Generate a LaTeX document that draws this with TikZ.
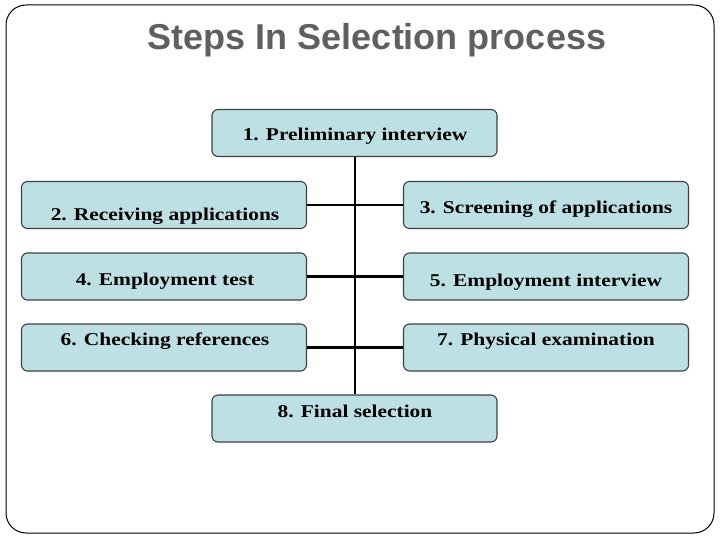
\documentclass[tikz,border=0pt]{standalone}
\usepackage{fontspec}
\usepackage{graphicx}
\setmainfont{Liberation Serif}
\newfontfamily\titlefont{Liberation Sans}
\definecolor{boxfill}{HTML}{BDE0E4}
\definecolor{boxdraw}{HTML}{404040}
\definecolor{titlegray}{HTML}{5F5F5F}
\newcommand{\wide}[1]{\scalebox{1.19}[1]{#1}}
\begin{document}
\begin{tikzpicture}[x=1pt,y=-1pt,
  stepbox/.style={draw=boxdraw,line width=1.1pt,fill=boxfill,rounded corners=6pt,
    minimum width=285pt,minimum height=47pt,inner sep=0pt},
  steptext/.style={font=\fontsize{18}{20}\selectfont\bfseries,inner sep=0pt},
  link/.style={line width=2.2pt,black}]
\useasboundingbox (0,0) rectangle (720,540);
\draw[line width=1pt,rounded corners=20pt] (6,5) rectangle (714,533);
\node[font=\titlefont\fontsize{36}{40}\selectfont\bfseries,text=titlegray] (title) at (377,40) {Steps In Selection process};
% boxes
\node[stepbox] (b1) at (354.5,133) {};
\node[stepbox] (b2) at (164,205) {};
\node[stepbox] (b3) at (546,205) {};
\node[stepbox] (b4) at (164,276.5) {};
\node[stepbox] (b5) at (546,276.5) {};
\node[stepbox] (b6) at (164,347.5) {};
\node[stepbox] (b7) at (546,347.5) {};
\node[stepbox] (b8) at (354.5,418.5) {};
% texts
\node[steptext] (t1) at (355,136) {\wide{1. Preliminary interview}};
\node[steptext] (t2) at (165,216) {\wide{2. Receiving applications}};
\node[steptext] (t3) at (546,209) {\wide{3. Screening of applications}};
\node[steptext] (t4) at (165,281) {\wide{4. Employment test}};
\node[steptext] (t5) at (546,282) {\wide{5. Employment interview}};
\node[steptext] (t6) at (165,341) {\wide{6. Checking references}};
\node[steptext] (t7) at (546,341) {\wide{7. Physical examination}};
\node[steptext] (t8) at (355,411) {\wide{8. Final selection}};
% connectors
\coordinate (j2) at (355,205);
\coordinate (j4) at (355,276.5);
\coordinate (j6) at (355,347.5);
\draw[link] (b1.south -| j2) -- (b8.north -| j2);
\draw[link] (b2.east) -- (j2) -- (b3.west);
\draw[link] (b4.east) -- (j4) -- (b5.west);
\draw[link] (b6.east) -- (j6) -- (b7.west);
\end{tikzpicture}
\end{document}
